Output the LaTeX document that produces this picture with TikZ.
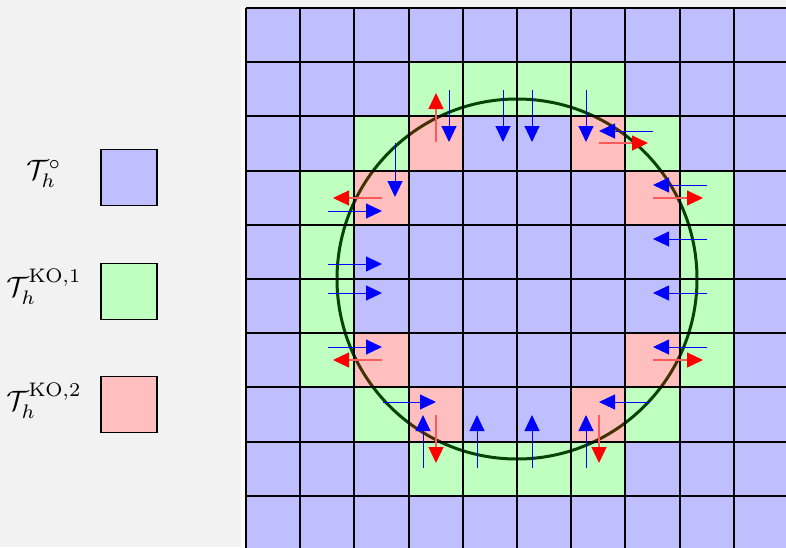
\documentclass[tikz,border=0pt]{standalone}
\usetikzlibrary{arrows.meta}
\definecolor{bgc}{RGB}{242,242,242}
\definecolor{cellB}{RGB}{191,191,255}
\definecolor{cellG}{RGB}{191,255,191}
\definecolor{cellR}{RGB}{255,191,191}
\definecolor{circc}{RGB}{5,68,5}
\definecolor{rshaft}{RGB}{255,90,90}
\tikzset{
  barr/.style={draw=blue, line width=1pt, -{Triangle[length=16pt,width=15pt,color=blue]}},
  rarr/.style={draw=rshaft, line width=1.2pt, -{Triangle[length=16pt,width=15pt,color=red]}},
  legsq/.style={draw=black, line width=1.5pt, minimum size=56pt, inner sep=0pt},
  leglab/.style={scale=2.8, inner sep=0pt}
}
\begin{document}
\begin{tikzpicture}[x=1pt,y=-1pt]
\fill[bgc] (0,0) rectangle (786,547);
\useasboundingbox (0,0) rectangle (786,547);
\clip (0,0) rectangle (786,547);
\fill[white] (241,6) rectangle (246,547);
% cell fills
\begin{scope}[shift={(246,8)}, x=54.2pt, y=-54.2pt]
  \fill[cellB] (0,0) rectangle (10,10);
  \foreach \i/\j in {3/1,4/1,5/1,6/1,2/2,7/2,1/3,8/3,1/4,8/4,1/5,8/5,1/6,8/6,2/7,7/7,3/8,4/8,5/8,6/8}
    \fill[cellG] (\i,\j) rectangle ++(1,1);
  \foreach \i/\j in {3/2,6/2,2/3,7/3,2/6,7/6,3/7,6/7}
    \fill[white] (\i,\j) rectangle ++(1,1);
\end{scope}
% circle
\coordinate (cc) at (517,279);
\draw[circc, line width=3pt] (cc) circle[radius=180pt];
% red overlay and grid
\begin{scope}[shift={(246,8)}, x=54.2pt, y=-54.2pt]
  \foreach \i/\j in {3/2,6/2,2/3,7/3,2/6,7/6,3/7,6/7}
    \fill[red, fill opacity=0.25] (\i,\j) rectangle ++(1,1);
  \foreach \k in {0,...,10} {
    \draw[black, line width=2pt] (\k,0) -- (\k,10);
    \draw[black, line width=2pt] (0,\k) -- (10,\k);
  }
\end{scope}
% arrows top
\draw[rarr] (436,142) -- (436,93);
\draw[barr] (449,90) -- (449,142);
\draw[barr] (503,90) -- (503,142);
\draw[barr] (532,90) -- (532,142);
\draw[barr] (586,90) -- (586,142);
\draw[barr] (653,131) -- (599,131);
\draw[rarr] (599,143) -- (648,143);
% top-left
\draw[barr] (395,143) -- (395,197);
\draw[rarr] (382,198) -- (333,198);
\draw[barr] (328,211) -- (382,211);
% left
\draw[barr] (328,264) -- (382,264);
\draw[barr] (328,293) -- (382,293);
\draw[barr] (328,347) -- (382,347);
\draw[rarr] (382,360) -- (333,360);
% right
\draw[barr] (707,185) -- (653,185);
\draw[rarr] (653,198) -- (703,198);
\draw[barr] (707,239) -- (653,239);
\draw[barr] (707,293) -- (653,293);
\draw[barr] (707,347) -- (653,347);
\draw[rarr] (653,360) -- (703,360);
% bottom
\draw[barr] (383,402) -- (436,402);
\draw[barr] (423,468) -- (423,415);
\draw[rarr] (436,415) -- (436,463);
\draw[barr] (477,468) -- (477,415);
\draw[barr] (532,468) -- (532,415);
\draw[barr] (586,468) -- (586,415);
\draw[rarr] (599,415) -- (599,463);
\draw[barr] (650,402) -- (599,402);
% legend
\node[legsq, fill=cellB] (sq1) at (129,177.5) {};
\node[legsq, fill=cellG] (sq2) at (129,291.5) {};
\node[legsq, fill=cellR] (sq3) at (129,404.5) {};
\node[leglab] (l1) at (44,174) {$\mathcal{T}_h^{\circ}$};
\node[leglab] (l2) at (44,287) {$\mathcal{T}_h^{\mathrm{KO},1}$};
\node[leglab] (l3) at (44,401) {$\mathcal{T}_h^{\mathrm{KO},2}$};
\end{tikzpicture}
\end{document}
